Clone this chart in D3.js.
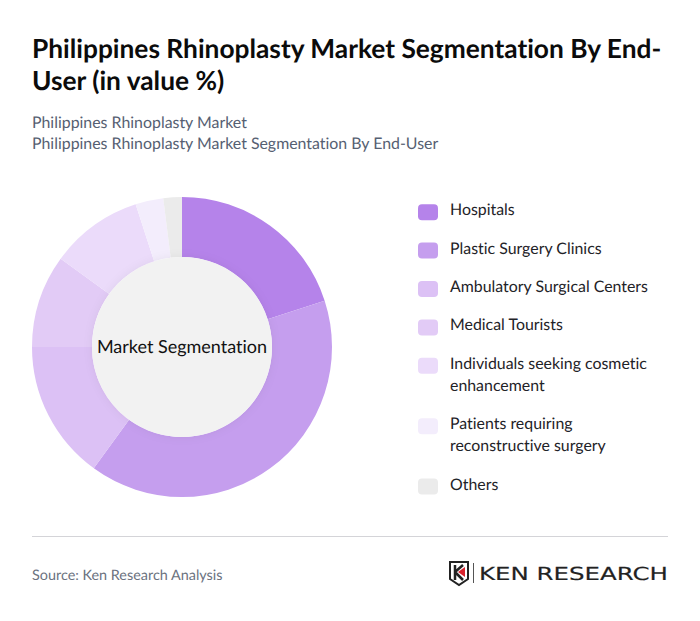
<!DOCTYPE html>
<html>
<head>
<meta charset="utf-8">
<script src="https://cdn.jsdelivr.net/npm/d3@7"></script>
<style>
  html, body { margin: 0; padding: 0; background: #fff; }
  svg { display: block; font-family: Lato, sans-serif; text-rendering: geometricPrecision; font-variant-ligatures: none; }
</style>
</head>
<body>
<svg width="700" height="621"></svg>
<script>
const titleLines = ["Philippines Rhinoplasty Market Segmentation By End-", "User (in value %)"];
const subtitleLines = ["Philippines Rhinoplasty Market", "Philippines Rhinoplasty Market Segmentation By End-User"];
const categories = ["Hospitals", "Plastic Surgery Clinics", "Ambulatory Surgical Centers", "Medical Tourists",
  "Individuals seeking cosmetic enhancement", "Patients requiring reconstructive surgery", "Others"];
const values = [20, 40, 15, 10, 10, 3, 2];
const colors = ["#b583ea", "#c59eee", "#dcc1f5", "#e2cbf6", "#ebdbfa", "#f3edfc", "#ebebeb"];
// where the legend labels break onto a second line
const legendLines = [["Hospitals"], ["Plastic Surgery Clinics"], ["Ambulatory Surgical Centers"], ["Medical Tourists"],
  ["Individuals seeking cosmetic", "enhancement"], ["Patients requiring", "reconstructive surgery"], ["Others"]];

const svg = d3.select("svg");

// drop shadow behind the hole of the donut
const filter = svg.append("defs").append("filter").attr("id", "hole")
  .attr("x", "-20%").attr("y", "-20%").attr("width", "140%").attr("height", "140%");
filter.append("feDropShadow").attr("dx", 0).attr("dy", 0).attr("stdDeviation", 5)
  .attr("flood-color", "#000").attr("flood-opacity", 0.06);

// heading
svg.append("g").selectAll("text").data(titleLines).enter().append("text")
  .attr("x", 32).attr("y", (d, i) => 58 + i * 32)
  .attr("font-size", 26.3).attr("font-weight", 700).attr("fill", "#0b0b0b")
  .text(d => d);

svg.append("g").selectAll("text").data(subtitleLines).enter().append("text")
  .attr("x", 32).attr("y", (d, i) => 128 + i * 21)
  .attr("font-size", 15.9).attr("fill", "#566072")
  .text(d => d);

// donut
const color = d3.scaleOrdinal().domain(categories).range(colors);
const pie = d3.pie().sort(null).value((d, i) => values[i]);
const arc = d3.arc().innerRadius(90).outerRadius(150);

const donut = svg.append("g").attr("transform", "translate(182,347)");
donut.selectAll("path").data(pie(categories)).enter().append("path")
  .attr("d", arc)
  .attr("fill", d => color(d.data));
donut.append("circle").attr("r", 90).attr("fill", "#f2f2f2").attr("filter", "url(#hole)");
donut.append("text").attr("text-anchor", "middle").attr("dy", "0.35em")
  .attr("font-size", 18).attr("fill", "#111")
  .text("Market Segmentation");

// legend, rows grow with the number of lines
const legend = svg.append("g");
let rowY = 204.2;
legendLines.forEach(function(lines, i) {
  const row = legend.append("g").attr("transform", "translate(418," + rowY + ")");
  row.append("rect").attr("width", 20).attr("height", 16).attr("rx", 4)
    .attr("fill", color(categories[i]));
  row.selectAll("text").data(lines).enter().append("text")
    .attr("x", 32).attr("y", (d, j) => 11 + j * 22)
    .attr("font-size", 15.9).attr("fill", "#1f2328")
    .text(d => d);
  rowY += 38.4 + (lines.length - 1) * 22;
});

// footer
svg.append("line").attr("x1", 32).attr("x2", 668).attr("y1", 536.5).attr("y2", 536.5)
  .attr("stroke", "#d4d4d8");
svg.append("text").attr("x", 32).attr("y", 580)
  .attr("font-size", 14.4).attr("fill", "#6b7280")
  .text("Source: Ken Research Analysis");

// logo
const logo = svg.append("g").attr("transform", "translate(449,561)");
logo.append("path").attr("d", "M1,1H19V18L10,24L1,18Z").attr("fill", "none").attr("stroke", "#222").attr("stroke-width", 2);
logo.append("path").attr("d", "M6,4V19M6,11L14,4M6,11L14,19").attr("fill", "none").attr("stroke", "#222").attr("stroke-width", 2.5);
logo.append("path").attr("d", "M9,11L16,6V16Z").attr("fill", "#d9232e");
logo.append("rect").attr("x", 24).attr("y", 2).attr("width", 1).attr("height", 20).attr("fill", "#555");
logo.append("text").attr("x", 30).attr("y", 19)
  .attr("font-family", "DejaVu Sans").attr("font-size", 18).attr("fill", "#222")
  .attr("stroke", "#222").attr("stroke-width", 0.15)
  .attr("textLength", 189).attr("lengthAdjust", "spacingAndGlyphs")
  .text("KEN RESEARCH");
</script>
</body>
</html>
